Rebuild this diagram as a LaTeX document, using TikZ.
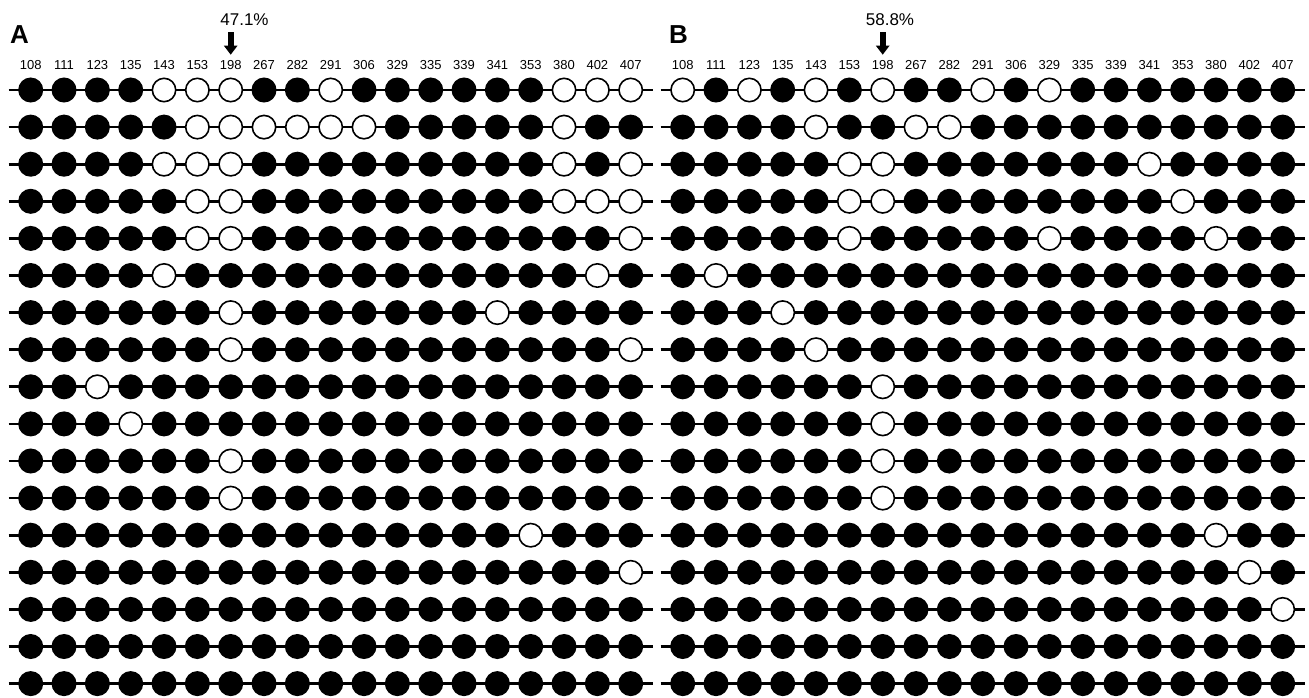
\documentclass[tikz,border=0pt]{standalone}
\usepackage{fontspec}
\setmainfont{Liberation Sans}
\usetikzlibrary{arrows.meta}

% Methylation state per CpG site: 1 = methylated (filled), 0 = unmethylated (open)
\def\rowsA{%
{1,1,1,1,0,0,0,1,1,0,1,1,1,1,1,1,0,0,0},%
{1,1,1,1,1,0,0,0,0,0,0,1,1,1,1,1,0,1,1},%
{1,1,1,1,0,0,0,1,1,1,1,1,1,1,1,1,0,1,0},%
{1,1,1,1,1,0,0,1,1,1,1,1,1,1,1,1,0,0,0},%
{1,1,1,1,1,0,0,1,1,1,1,1,1,1,1,1,1,1,0},%
{1,1,1,1,0,1,1,1,1,1,1,1,1,1,1,1,1,0,1},%
{1,1,1,1,1,1,0,1,1,1,1,1,1,1,0,1,1,1,1},%
{1,1,1,1,1,1,0,1,1,1,1,1,1,1,1,1,1,1,0},%
{1,1,0,1,1,1,1,1,1,1,1,1,1,1,1,1,1,1,1},%
{1,1,1,0,1,1,1,1,1,1,1,1,1,1,1,1,1,1,1},%
{1,1,1,1,1,1,0,1,1,1,1,1,1,1,1,1,1,1,1},%
{1,1,1,1,1,1,0,1,1,1,1,1,1,1,1,1,1,1,1},%
{1,1,1,1,1,1,1,1,1,1,1,1,1,1,1,0,1,1,1},%
{1,1,1,1,1,1,1,1,1,1,1,1,1,1,1,1,1,1,0},%
{1,1,1,1,1,1,1,1,1,1,1,1,1,1,1,1,1,1,1},%
{1,1,1,1,1,1,1,1,1,1,1,1,1,1,1,1,1,1,1},%
{1,1,1,1,1,1,1,1,1,1,1,1,1,1,1,1,1,1,1}}
\def\rowsB{%
{0,1,0,1,0,1,0,1,1,0,1,0,1,1,1,1,1,1,1},%
{1,1,1,1,0,1,1,0,0,1,1,1,1,1,1,1,1,1,1},%
{1,1,1,1,1,0,0,1,1,1,1,1,1,1,0,1,1,1,1},%
{1,1,1,1,1,0,0,1,1,1,1,1,1,1,1,0,1,1,1},%
{1,1,1,1,1,0,1,1,1,1,1,0,1,1,1,1,0,1,1},%
{1,0,1,1,1,1,1,1,1,1,1,1,1,1,1,1,1,1,1},%
{1,1,1,0,1,1,1,1,1,1,1,1,1,1,1,1,1,1,1},%
{1,1,1,1,0,1,1,1,1,1,1,1,1,1,1,1,1,1,1},%
{1,1,1,1,1,1,0,1,1,1,1,1,1,1,1,1,1,1,1},%
{1,1,1,1,1,1,0,1,1,1,1,1,1,1,1,1,1,1,1},%
{1,1,1,1,1,1,0,1,1,1,1,1,1,1,1,1,1,1,1},%
{1,1,1,1,1,1,0,1,1,1,1,1,1,1,1,1,1,1,1},%
{1,1,1,1,1,1,1,1,1,1,1,1,1,1,1,1,0,1,1},%
{1,1,1,1,1,1,1,1,1,1,1,1,1,1,1,1,1,0,1},%
{1,1,1,1,1,1,1,1,1,1,1,1,1,1,1,1,1,1,0},%
{1,1,1,1,1,1,1,1,1,1,1,1,1,1,1,1,1,1,1},%
{1,1,1,1,1,1,1,1,1,1,1,1,1,1,1,1,1,1,1}}

\begin{document}
\begin{tikzpicture}[x=1pt,y=-1pt,
  strand/.style={line width=2.7pt, draw=black},
  cpg/.style={circle, draw=black, line width=1.6pt, minimum size=23.4pt, inner sep=0pt},
  poslabel/.style={anchor=base, inner sep=0pt, font=\fontsize{13}{15}\selectfont},
  pctlabel/.style={anchor=base, inner sep=0pt, font=\fontsize{17}{20}\selectfont},
  panellabel/.style={anchor=base west, inner sep=0pt, font=\fontsize{26}{30}\selectfont\bfseries},
  pointer/.style={-{Triangle[width=13pt,length=9pt]}, line width=6pt, shorten >=5pt}
]
\useasboundingbox (0,0) rectangle (1309,697);

\foreach \p/\xo in {A/30.7,B/682.7}{
  \expandafter\let\expandafter\rows\csname rows\p\endcsname
  % one strand per clone, CpG sites on top
  \foreach \row [count=\r] in \rows {
    \pgfmathsetmacro\yy{90+(\r-1)*37.1}
    \coordinate (\p-\r-s) at ({\xo-22},\yy);
    \coordinate (\p-\r-e) at ({\xo+18*33.333+22},\yy);
    \draw[strand] (\p-\r-s) -- (\p-\r-e);
    \foreach \v [count=\c] in \row {
      \ifnum\v=1 \def\fc{black}\else\def\fc{white}\fi
      \node[cpg, fill=\fc] (\p-\r-\c) at ({\xo+(\c-1)*33.333},\yy) {};
    }
  }
  % CpG positions
  \foreach \t [count=\c] in {108,111,123,135,143,153,198,267,282,291,306,329,335,339,341,353,380,402,407}{
    \node[poslabel] (\p-l-\c) at ({\xo+(\c-1)*33.333},69) {\t};
  }
  \coordinate (\p-tail) at ({\xo+6*33.333},32);
  \draw[pointer] (\p-tail) -- (\p-l-7.north);
}

\node[panellabel] (A-title) at (10,43.3) {A};
\node[panellabel] (B-title) at (669,43.3) {B};
\node[pctlabel] (A-pct) at (244.5,25.7) {47.1\%};
\node[pctlabel] (B-pct) at (890,25.7) {58.8\%};
\end{tikzpicture}
\end{document}
